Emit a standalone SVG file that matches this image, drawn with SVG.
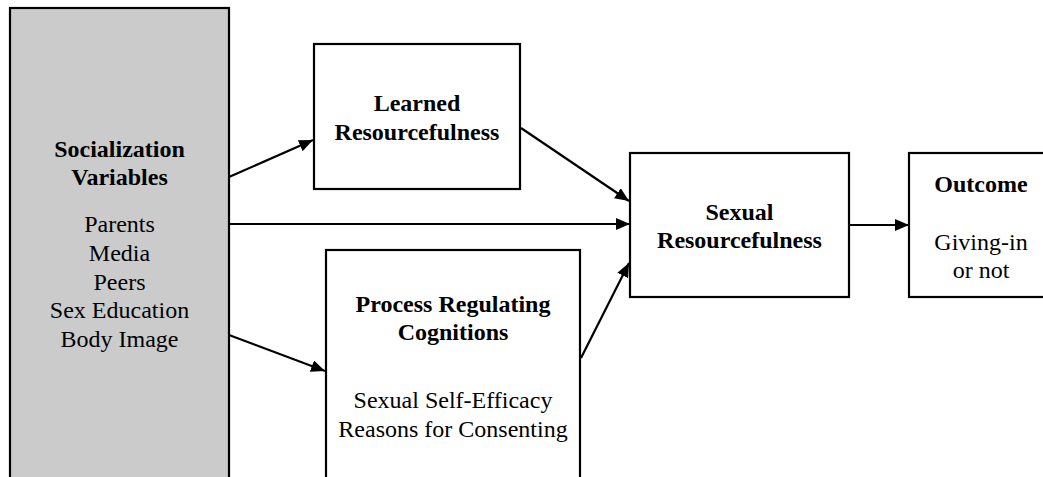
<svg xmlns="http://www.w3.org/2000/svg" width="1043" height="477" viewBox="0 0 1043 477">
<style>
.box{fill:#fff;stroke:#000;stroke-width:2.2}
.gray{fill:#cbcbcb;stroke:#000;stroke-width:2.2}
.t{font-family:"Liberation Serif","Times New Roman",serif;font-size:24px;fill:#000;text-anchor:middle}
.b{font-weight:bold}
.c{stroke:#000;stroke-width:2.2;fill:none;marker-end:url(#ah)}
</style>
<defs>
<marker id="ah" markerUnits="userSpaceOnUse" markerWidth="15" markerHeight="13" refX="14" refY="6" orient="auto" viewBox="0 0 15 13">
<path d="M0,0 L14,6 L0,12 z" fill="#000"/>
</marker>
</defs>
<rect width="1043" height="477" fill="#fff"/>
<g id="socialization">
<rect class="gray" x="10" y="8" width="219" height="480"/>
<text class="t b" x="119.5" y="157">Socialization</text>
<text class="t b" x="119.5" y="185">Variables</text>
<text class="t" x="119.5" y="232">Parents</text>
<text class="t" x="119.5" y="261">Media</text>
<text class="t" x="119.5" y="290">Peers</text>
<text class="t" x="119.5" y="318">Sex Education</text>
<text class="t" x="119.5" y="347">Body Image</text>
</g>
<g id="learned">
<rect class="box" x="314" y="44" width="206" height="145"/>
<text class="t b" x="417" y="111">Learned</text>
<text class="t b" x="417" y="140">Resourcefulness</text>
</g>
<g id="process">
<rect class="box" x="326" y="250" width="254" height="240"/>
<text class="t b" x="453" y="312">Process Regulating</text>
<text class="t b" x="453" y="340">Cognitions</text>
<text class="t" x="453" y="408">Sexual Self-Efficacy</text>
<text class="t" x="453" y="437">Reasons for Consenting</text>
</g>
<g id="sexual">
<rect class="box" x="630" y="153" width="219" height="144"/>
<text class="t b" x="739.5" y="220">Sexual</text>
<text class="t b" x="739.5" y="248">Resourcefulness</text>
</g>
<g id="outcome">
<rect class="box" x="909" y="153" width="150" height="144"/>
<text class="t b" x="981" y="192">Outcome</text>
<text class="t" x="981" y="250">Giving-in</text>
<text class="t" x="981" y="278">or not</text>
</g>
<g id="connectors">
<line class="c" x1="229" y1="177" x2="313" y2="140"/>
<line class="c" x1="229" y1="224" x2="630" y2="224"/>
<line class="c" x1="521" y1="128" x2="629" y2="201"/>
<line class="c" x1="229" y1="335" x2="325" y2="371"/>
<line class="c" x1="581" y1="358" x2="629" y2="263"/>
<line class="c" x1="849" y1="225" x2="909" y2="225"/>
</g>
</svg>
